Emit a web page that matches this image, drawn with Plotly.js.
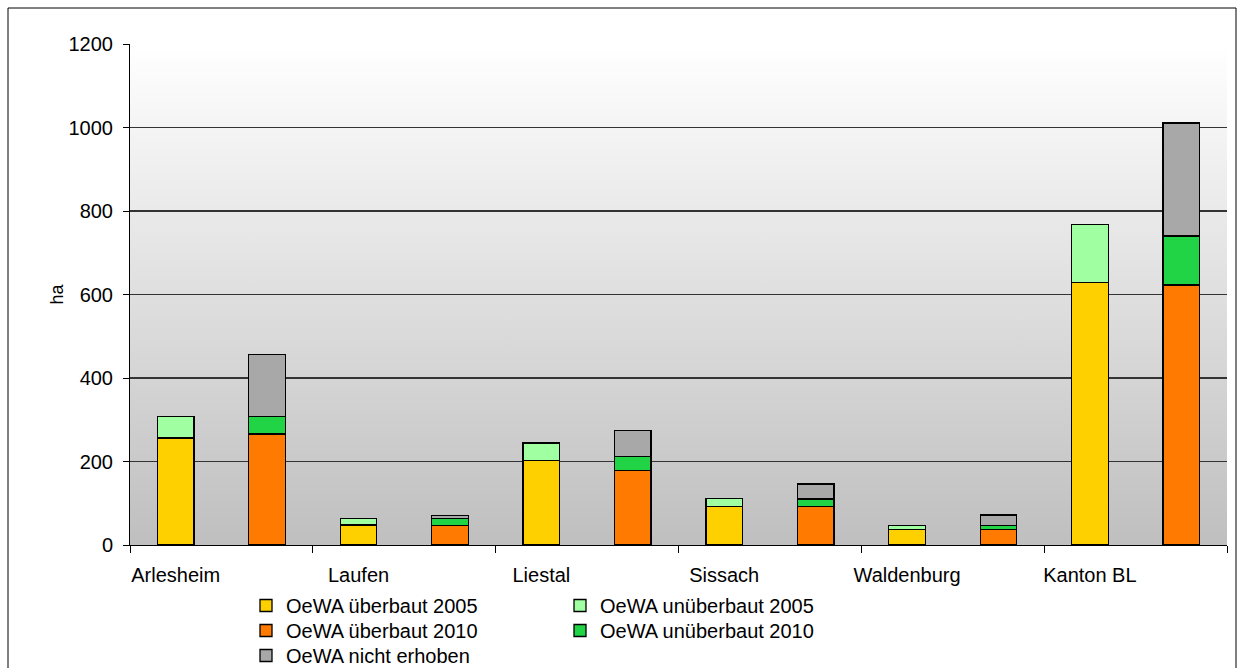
<!DOCTYPE html>
<html>
<head>
<meta charset="utf-8">
<script src="https://cdn.plot.ly/plotly-3.0.1.min.js"></script>
<style>
  html, body { margin: 0; padding: 0; background: #fff; }
  #chart { width: 1238px; height: 668px; }
</style>
</head>
<body>
<div id="chart"></div>
<script>
// ---- data ----
const categories = ['Arlesheim', 'Laufen', 'Liestal', 'Sissach', 'Waldenburg', 'Kanton BL'];
const ueberbaut2005   = [256, 48, 202, 92, 37, 629];
const unueberbaut2005 = [51, 16, 42, 19, 10, 139];
const ueberbaut2010   = [266, 47, 178, 93, 37, 623];
const unueberbaut2010 = [41, 17, 34, 17, 10, 117];
const nichtErhoben    = [150, 7, 62, 36, 25, 271];
const seriesNames = ['OeWA überbaut 2005', 'OeWA unüberbaut 2005', 'OeWA überbaut 2010', 'OeWA unüberbaut 2010', 'OeWA nicht erhoben'];
const yTicks = [0, 200, 400, 600, 800, 1000, 1200];

// ---- positions: two slots per category (2005, 2010) ----
const x2005 = categories.map((c, i) => 2 * i);
const x2010 = categories.map((c, i) => 2 * i + 1);

const FONT = 'Liberation Sans, Arial, sans-serif';
const W = 1238, H = 668;
const M = { l: 130, r: 11, t: 44, b: 123, autoexpand: false };
const PW = W - M.l - M.r, PH = H - M.t - M.b;
const px = v => (v - M.l) / PW;       // pixel -> paper x
const py = v => (H - M.b - v) / PH;   // pixel -> paper y

function bar(x, y, name, color, legend) {
  return {
    type: 'bar', x: x, y: y, name: name, legend: legend,
    width: 0.4,
    marker: { color: color, line: { color: '#000', width: 1.3 } },
    hoverinfo: 'y+name'
  };
}

const traces = [
  bar(x2005, ueberbaut2005,   seriesNames[0], '#FFD000', 'legend'),
  bar(x2005, unueberbaut2005, seriesNames[1], '#A0FFA0', 'legend2'),
  bar(x2010, ueberbaut2010,   seriesNames[2], '#FF7A00', 'legend3'),
  bar(x2010, unueberbaut2010, seriesNames[3], '#20D445', 'legend4'),
  bar(x2010, nichtErhoben,    seriesNames[4], '#A8A8A8', 'legend5')
];

function leg(xPix, yPix) {
  return {
    x: px(xPix), y: py(yPix), xanchor: 'left', yanchor: 'top',
    orientation: 'v', bgcolor: 'rgba(0,0,0,0)',
    font: { family: FONT, size: 20, color: '#000' }
  };
}

const gradSvg = '<svg xmlns="http://www.w3.org/2000/svg" width="100" height="100" preserveAspectRatio="none">' +
  '<defs><linearGradient id="g" x1="0" y1="0" x2="0" y2="1">' +
  '<stop offset="0" stop-color="#ffffff"/><stop offset="1" stop-color="#bfbfbf"/>' +
  '</linearGradient></defs><rect width="100" height="100" fill="url(#g)"/></svg>';

const layout = {
  width: W, height: H,
  margin: M,
  paper_bgcolor: '#ffffff',
  plot_bgcolor: 'rgba(0,0,0,0)',
  font: { family: FONT, size: 19, color: '#000' },
  barmode: 'stack',
  bargap: 0,
  images: [{
    source: 'data:image/svg+xml;charset=utf-8,' + encodeURIComponent(gradSvg),
    xref: 'paper', yref: 'paper', x: 0, y: 1, sizex: 1, sizey: 1,
    xanchor: 'left', yanchor: 'top', sizing: 'stretch', layer: 'below'
  }],
  xaxis: {
    range: [-0.5, 2 * categories.length - 0.5],
    tickmode: 'array',
    tickvals: x2005,
    ticktext: categories,
    ticks: '', ticklen: 0,
    ticklabelstandoff: 12,
    showline: true, linecolor: '#000', linewidth: 1,
    showgrid: false, zeroline: false,
    minor: { tick0: -0.5, dtick: 2, ticks: 'outside', ticklen: 7, tickcolor: '#000', tickwidth: 1, showgrid: false },
    tickfont: { family: FONT, size: 20, color: '#000' },
    automargin: false,
    fixedrange: true
  },
  yaxis: {
    range: [0, 1200],
    tickmode: 'array', tickvals: yTicks, ticktext: yTicks.map(String),
    ticks: 'outside', ticklen: 6, tickcolor: '#000', tickwidth: 1,
    ticklabelstandoff: 6,
    showline: true, linecolor: '#000', linewidth: 1,
    showgrid: true, gridcolor: '#333333', gridwidth: 1.2,
    zeroline: false,
    tickfont: { family: FONT, size: 20, color: '#000' },
    title: { text: 'ha', font: { family: FONT, size: 18, color: '#000' }, standoff: 0 },
    automargin: false,
    fixedrange: true
  },
  showlegend: true,
  legend:  leg(246, 586),
  legend2: leg(560, 586),
  legend3: leg(246, 611),
  legend4: leg(560, 611),
  legend5: leg(246, 636),
  shapes: [{
    type: 'rect', xref: 'paper', yref: 'paper',
    x0: px(8), x1: px(1236), y0: py(680), y1: py(8),
    line: { color: '#000', width: 1 }, fillcolor: 'rgba(0,0,0,0)', layer: 'below'
  }]
};

Plotly.newPlot('chart', traces, layout, { displayModeBar: false, staticPlot: true });
</script>
</body>
</html>
